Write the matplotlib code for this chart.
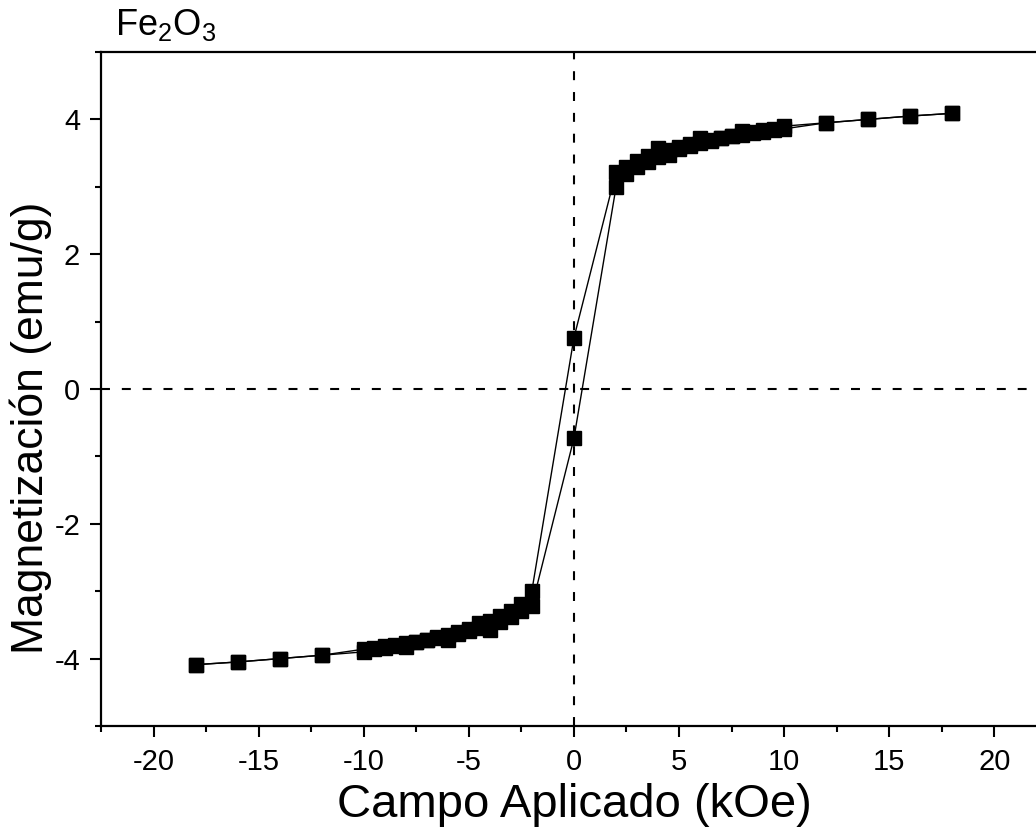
import matplotlib
matplotlib.use("Agg")
import matplotlib.pyplot as plt
from matplotlib.ticker import MultipleLocator
import numpy as np

plt.rcParams['font.family'] = ['Liberation Sans', 'DejaVu Sans']
plt.rcParams['axes.unicode_minus'] = False

# Descending branch (from +18 kOe to -18 kOe)
H_down = [18, 16, 14, 12, 10, 9.5, 9, 8.5, 8, 7.5, 7, 6.5, 6, 5.5, 5, 4.5, 4, 3.5, 3, 2.5, 2,
          0,
          -2, -2.5, -3, -3.5, -4, -4.5, -5, -5.5, -6, -6.5, -7, -7.5, -8, -8.5, -9, -9.5, -10,
          -12, -14, -16, -18]
M_down = [4.09, 4.05, 4.00, 3.95, 3.90, 3.86, 3.84, 3.81, 3.83, 3.76, 3.73, 3.69, 3.72, 3.63, 3.59, 3.55, 3.58, 3.45, 3.38, 3.30, 3.22,
          0.76,
          -2.99, -3.19, -3.29, -3.37, -3.44, -3.47, -3.56, -3.61, -3.65, -3.68, -3.73, -3.75, -3.77, -3.80, -3.82, -3.84, -3.86,
          -3.95, -4.00, -4.05, -4.09]

# Ascending branch (from -18 kOe back to +18 kOe)
H_up = [-18, -16, -14, -12, -10, -9.5, -9, -8.5, -8, -7.5, -7, -6.5, -6, -5.5, -5, -4.5, -4, -3.5, -3, -2.5, -2,
        0,
        2, 2.5, 3, 3.5, 4, 4.5, 5, 5.5, 6, 6.5, 7, 7.5, 8, 8.5, 9, 9.5, 10,
        12, 14, 16, 18]
M_up = [-4.09, -4.05, -4.00, -3.95, -3.90, -3.86, -3.84, -3.81, -3.83, -3.76, -3.73, -3.69, -3.72, -3.63, -3.59, -3.55, -3.58, -3.45, -3.38, -3.30, -3.22,
        -0.73,
        2.99, 3.19, 3.29, 3.37, 3.44, 3.47, 3.56, 3.61, 3.65, 3.68, 3.73, 3.75, 3.77, 3.80, 3.82, 3.84, 3.86,
        3.95, 4.00, 4.05, 4.09]

fig = plt.figure(figsize=(10.36, 8.32), dpi=100)
ax = fig.add_axes([0.0975, 0.1274, 0.913, 0.8101])

# reference lines
ax.axhline(0, color="k", linestyle=(0, (4.3, 5.7)), linewidth=1.5, zorder=1)
ax.axvline(0, color="k", linestyle=(0, (4.3, 5.7)), linewidth=1.5, zorder=1)

ax.plot(H_down, M_down, color="k", linewidth=1.0, marker="s", markersize=10.5,
        markerfacecolor="k", markeredgecolor="k", zorder=3)
ax.plot(H_up, M_up, color="k", linewidth=1.0, marker="s", markersize=10.5,
        markerfacecolor="k", markeredgecolor="k", zorder=3)

ax.set_xlim(-22.5, 22.5)
ax.set_ylim(-5, 5)
ax.xaxis.set_major_locator(MultipleLocator(5))
ax.xaxis.set_minor_locator(MultipleLocator(2.5))
ax.yaxis.set_major_locator(MultipleLocator(2))
ax.yaxis.set_minor_locator(MultipleLocator(1))

for s in ax.spines.values():
    s.set_linewidth(1.6)

ax.tick_params(which="major", direction="out", length=8, width=1.5, labelsize=21)
ax.tick_params(which="minor", direction="out", length=4, width=1.5)
ax.tick_params(axis="x", which="major", pad=8)
ax.tick_params(axis="y", which="major", pad=7)

ax.set_xlabel("Campo Aplicado (kOe)", fontsize=34, labelpad=5)
ax.set_ylabel("Magnetización (emu/g)", fontsize=32)
ax.yaxis.set_label_coords(-0.052, 0.442)

fig.text(0.111, 0.958, r"Fe$\mathregular{_2}$O$\mathregular{_3}$", fontsize=26, va="baseline")

plt.savefig("out.png", dpi=100)
